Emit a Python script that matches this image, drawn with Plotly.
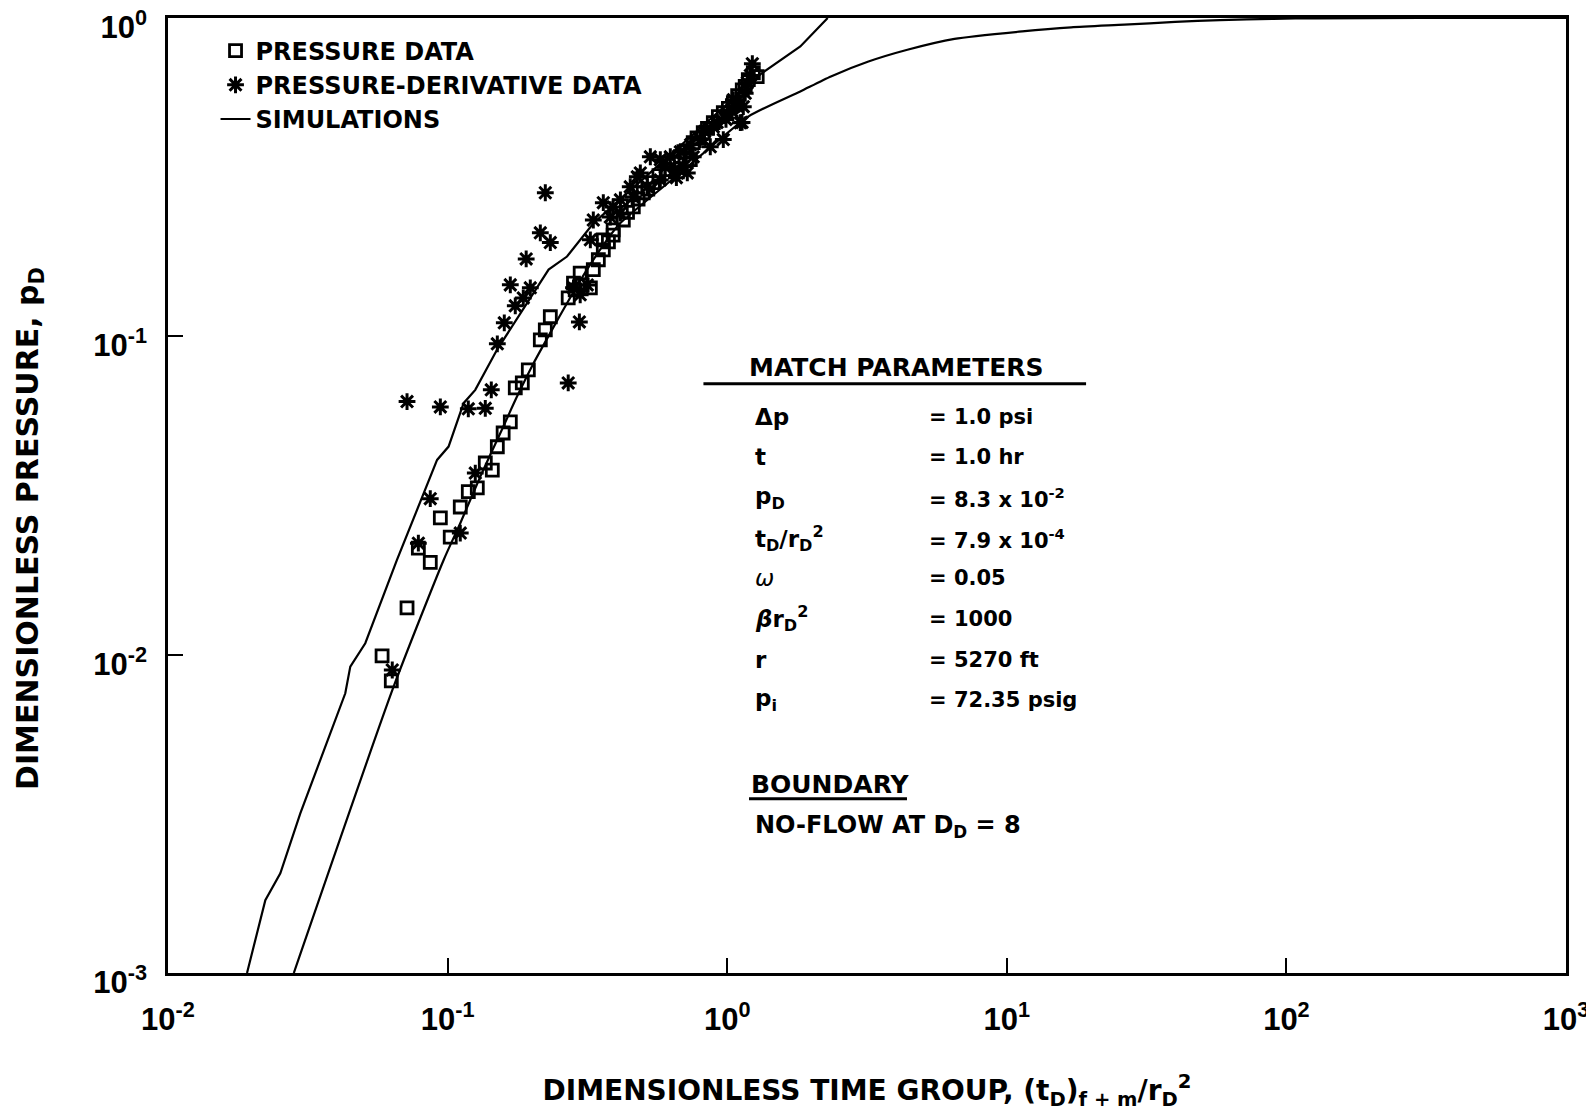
import plotly.graph_objects as go

# ---------------- data ----------------
pressure_t = [0.0583, 0.0629, 0.0716, 0.0786, 0.0867, 0.0942, 0.1022, 0.111, 0.1186, 0.1277,
              0.1364, 0.1445, 0.1506, 0.158, 0.1676, 0.1746, 0.185, 0.1944, 0.2146, 0.2236,
              0.233, 0.270, 0.282, 0.286, 0.298, 0.303, 0.324, 0.332, 0.346, 0.3605,
              0.3605, 0.376, 0.391, 0.391, 0.425, 0.4615, 0.501, 0.544, 0.611, 0.680,
              0.738, 0.756, 0.821, 0.892, 0.9685, 1.052, 1.132, 1.19, 1.24, 1.28,
              0.44, 0.48, 0.52, 0.57, 0.64, 0.70, 0.78, 0.85, 0.93, 1.01, 1.09, 1.16]
pressure_p = [0.00991, 0.00827, 0.01402, 0.0216, 0.0195, 0.0269, 0.0234, 0.0291, 0.0325, 0.0334,
              0.0400, 0.0380, 0.0450, 0.0497, 0.0539, 0.0689, 0.0714, 0.0785, 0.0975, 0.1048,
              0.1152, 0.132, 0.147, 0.140, 0.158, 0.145, 0.142, 0.162, 0.174, 0.187,
              0.201, 0.198, 0.208, 0.216, 0.232, 0.255, 0.2825, 0.304, 0.334, 0.3665,
              0.359, 0.406, 0.436, 0.469, 0.504, 0.542, 0.595, 0.640, 0.673, 0.654,
              0.245, 0.27, 0.29, 0.32, 0.35, 0.38, 0.42, 0.45, 0.49, 0.52, 0.57, 0.61]

deriv_t = [0.0634, 0.0716, 0.0786, 0.0867, 0.0942, 0.111, 0.1186, 0.1256, 0.1364, 0.1433,
           0.1506, 0.1595, 0.1676, 0.1746, 0.1865, 0.191, 0.1976, 0.2146, 0.2236, 0.233,
           0.270, 0.282, 0.296, 0.298, 0.316, 0.324, 0.332, 0.3605, 0.382, 0.391,
           0.415, 0.415, 0.450, 0.4615, 0.477, 0.489, 0.518, 0.531, 0.5765, 0.5765,
           0.626, 0.65, 0.658, 0.697, 0.72, 0.756, 0.801, 0.870, 0.892, 0.9685,
           1.00, 1.04, 1.052, 1.114, 1.13, 1.142, 1.18, 1.23,
           0.60, 0.68, 0.74, 0.83, 0.92, 0.99, 1.08, 1.16, 1.21]
deriv_p = [0.00895, 0.0624, 0.0224, 0.0309, 0.060, 0.0241, 0.0592, 0.0372, 0.0594, 0.0679,
           0.0947, 0.1103, 0.1451, 0.1247, 0.132, 0.175, 0.142, 0.2115, 0.2825, 0.197,
           0.0714, 0.142, 0.111, 0.135, 0.145, 0.201, 0.232, 0.263, 0.237, 0.255,
           0.2685, 0.244, 0.295, 0.274, 0.317, 0.326, 0.295, 0.3665, 0.359, 0.310,
           0.3665, 0.334, 0.315, 0.341, 0.326, 0.3665, 0.415, 0.394, 0.455, 0.415,
           0.504, 0.51, 0.554, 0.469, 0.47, 0.5265, 0.626, 0.7185,
           0.34, 0.38, 0.40, 0.44, 0.47, 0.48, 0.53, 0.58, 0.66]

sim_upper_t = [0.01917, 0.02229, 0.02522, 0.02973, 0.04306, 0.04487, 0.05077, 0.0659, 0.0917, 0.1008,
               0.1141, 0.1256, 0.1502, 0.2146, 0.2297, 0.2673, 0.3327, 1.332, 1.826, 2.288]
sim_upper_p = [0.001, 0.001694, 0.002056, 0.003174, 0.007562, 0.009169, 0.01086, 0.01984, 0.0409, 0.04505,
               0.06166, 0.0679, 0.0907, 0.147, 0.162, 0.1781, 0.2269, 0.6717, 0.8143, 1.0]

sim_lower_t = [0.02818, 0.0641, 0.0968, 0.111, 0.1309, 0.1543, 0.1771, 0.203, 0.2362, 0.2673,
               0.3152, 0.3716, 0.415, 0.702, 1.193, 1.826, 2.349, 3.2, 4.41, 6.5,
               11.35, 17.0, 26.3, 40.0, 57.8, 90.0, 127, 300, 1000]
sim_lower_p = [0.001, 0.007931, 0.01984, 0.02588, 0.03626, 0.04962, 0.06467, 0.08236, 0.1048, 0.1271,
               0.162, 0.201, 0.2269, 0.334, 0.4907, 0.588, 0.6554, 0.73, 0.795, 0.86,
               0.9077, 0.935, 0.953, 0.972, 0.985, 0.994, 0.998, 1.0, 1.0]

x_tickvals = [0.01, 0.1, 1, 10, 100, 1000]
x_ticktext = ["10<sup>-2</sup>", "10<sup>-1</sup>", "10<sup>0</sup>", "10<sup>1</sup>", "10<sup>2</sup>", "10<sup>3</sup>"]
y_tickvals = [0.001, 0.01, 0.1, 1]
y_ticktext = ["10<sup>-3</sup>", "10<sup>-2</sup>", "10<sup>-1</sup>", "10<sup>0</sup>"]

param_labels = ["Δp", "t", "p<sub>D</sub>", "t<sub>D</sub>/r<sub>D</sub><sup>2</sup>", "ω",
                "<i>β</i>r<sub>D</sub><sup>2</sup>", "r", "p<sub>i</sub>"]
param_values = ["= 1.0 psi", "= 1.0 hr", "= 8.3 x 10<sup>-2</sup>", "= 7.9 x 10<sup>-4</sup>",
                "= 0.05", "= 1000", "= 5270 ft", "= 72.35 psig"]

# ---------------- figure ----------------
FONT = "DejaVu Sans"
TICKFONT = "Liberation Sans, Arial, sans-serif"
fig = go.Figure()

fig.add_trace(go.Scatter(x=sim_upper_t, y=sim_upper_p, mode="lines",
                         line=dict(color="black", width=2.2), name="SIMULATIONS",
                         legendrank=3, showlegend=True))
fig.add_trace(go.Scatter(x=sim_lower_t, y=sim_lower_p, mode="lines", line_shape="spline",
                         line=dict(color="black", width=2.2, smoothing=0.6), name="SIMULATIONS",
                         legendrank=4, showlegend=False))
fig.add_trace(go.Scatter(x=pressure_t, y=pressure_p, mode="markers", name="PRESSURE DATA",
                         legendrank=1,
                         marker=dict(symbol="square-open", size=12, color="black",
                                     line=dict(width=2.8, color="black"))))
fig.add_trace(go.Scatter(x=deriv_t, y=deriv_p, mode="markers", name="PRESSURE-DERIVATIVE DATA",
                         legendrank=2,
                         marker=dict(symbol="asterisk-open", size=14, color="black",
                                     line=dict(width=3, color="black"))))

fig.update_xaxes(type="log", range=[-2, 3], tickmode="array", tickvals=x_tickvals, ticktext=x_ticktext,
                 ticks="inside", ticklen=15, tickwidth=2, tickcolor="black",
                 showline=True, linecolor="black", linewidth=2.5, mirror=True, automargin=False,
                 showgrid=False, zeroline=False, ticklabelstandoff=17, ticklabeloverflow="allow",
                 tickfont=dict(family=TICKFONT, size=31, color="black", weight="bold"),
                 title=dict(text="DIMENSIONLESS TIME GROUP, (t<sub>D</sub>)<sub>f + m</sub>/r<sub>D</sub><sup>2</sup>",
                            font=dict(family=FONT, size=28, color="black", weight="bold"), standoff=46))
fig.update_yaxes(type="log", range=[-3, 0], tickmode="array", tickvals=y_tickvals, ticktext=y_ticktext,
                 ticks="inside", ticklen=15, tickwidth=2, tickcolor="black",
                 showline=True, linecolor="black", linewidth=2.5, mirror=True, automargin=False,
                 showgrid=False, zeroline=False, ticklabelstandoff=12, ticklabeloverflow="allow",
                 ticklabelshift=9,
                 tickfont=dict(family=TICKFONT, size=31, color="black", weight="bold"))

ann_font = dict(family=FONT, size=23, color="black", weight="bold")
val_font = dict(family=FONT, size=21, color="black", weight="bold")

annotations = [
    dict(text="DIMENSIONLESS PRESSURE, p<sub>D</sub>", x=-0.0987, y=0.465, xanchor="center",
         yanchor="middle", textangle=-90,
         font=dict(family=FONT, size=30, color="black", weight="bold")),
    dict(text="MATCH PARAMETERS", x=0.414, y=0.634, xanchor="left", yanchor="middle",
         font=dict(family=FONT, size=25, color="black", weight="bold")),
    dict(text="BOUNDARY", x=0.4156, y=0.197, xanchor="left", yanchor="middle",
         font=dict(family=FONT, size=25, color="black", weight="bold")),
    dict(text="NO-FLOW AT D<sub>D</sub> = 8", x=0.4185, y=0.153, xanchor="left", yanchor="middle",
         font=dict(family=FONT, size=24, color="black", weight="bold")),
]
row_y = [0.5825, 0.5401, 0.4977, 0.4548, 0.4139, 0.371, 0.3281, 0.2862]
for lab, val, yy in zip(param_labels, param_values, row_y):
    lf = dict(ann_font)
    if lab == "ω":
        lab = "<i>ω</i>"
        lf = dict(family=FONT, size=23, color="black", weight="normal")
    annotations.append(dict(text=lab, x=0.4185, y=yy, xanchor="left", yanchor="middle", font=lf))
    annotations.append(dict(text=val, x=0.543, y=yy, xanchor="left", yanchor="middle", font=val_font))
for a in annotations:
    a.update(xref="paper", yref="paper", showarrow=False)

shapes = [
    dict(type="line", xref="paper", yref="paper", x0=0.383, x1=0.6567, y0=0.617, y1=0.617,
         line=dict(color="black", width=3)),
    dict(type="line", xref="paper", yref="paper", x0=0.4156, x1=0.5286, y0=0.1825, y1=0.1825,
         line=dict(color="black", width=3)),
]

# The page body keeps its default 8px margin, so the figure is 8px smaller and the margins shifted.
fig.update_layout(
    width=1586, height=1103,
    margin=dict(l=160, r=28, t=10, b=138, autoexpand=False),
    paper_bgcolor="white", plot_bgcolor="white",
    font=dict(family=FONT, color="black"),
    legend=dict(x=0.034, y=0.989, xanchor="left", yanchor="top", bgcolor="rgba(0,0,0,0)",
                font=dict(family=FONT, size=24, color="black", weight="bold"),
                itemwidth=30, tracegroupgap=0),
    annotations=annotations, shapes=shapes,
)

fig.write_html("out.html")
